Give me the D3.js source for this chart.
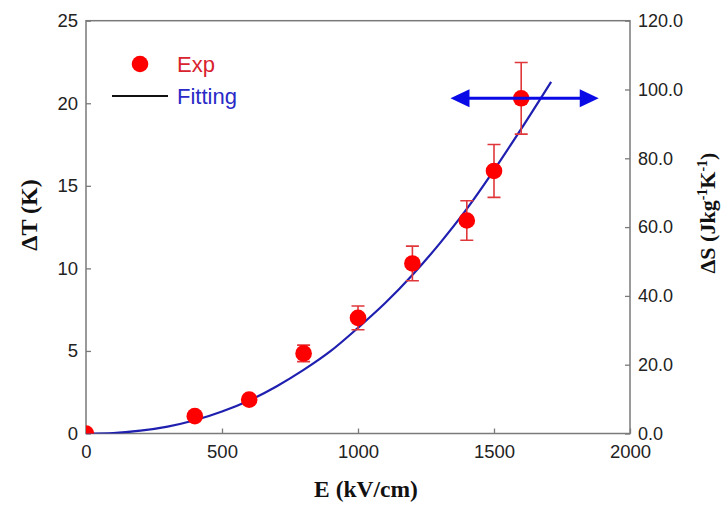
<!DOCTYPE html>
<html>
<head>
<meta charset="utf-8">
<script src="https://cdn.jsdelivr.net/npm/d3@7"></script>
<style>
  html, body { margin: 0; padding: 0; background: #fff; }
  svg { display: block; }
</style>
</head>
<body>
<svg id="chart" width="723" height="507"></svg>
<script>
// Measured electrocaloric temperature change vs applied field
const fieldE   = [0, 400, 600, 800, 1000, 1200, 1400, 1500, 1600];
const deltaT   = [0, 1.05, 2.05, 4.85, 7.0, 10.3, 12.9, 15.9, 20.3];
const deltaErr = [0, 0, 0, 0.5, 0.72, 1.05, 1.2, 1.6, 2.17];

// Fitted curve, sampled along the field axis
const fitE = [0, 100, 200, 300, 400, 500, 600, 700, 800, 900, 1000, 1100, 1200, 1300, 1400, 1500, 1600, 1710];
const fitT = [0, 0.03, 0.17, 0.42, 0.8, 1.33, 2.0, 2.85, 3.85, 5.0, 6.4, 7.9, 9.6, 11.5, 13.6, 15.95, 18.45, 21.3];

// Tick labels
const xTicks  = [0, 500, 1000, 1500, 2000];
const yTicks  = [0, 5, 10, 15, 20, 25];
const y2Ticks = [0, 20, 40, 60, 80, 100, 120];

// Double-headed arrow annotation (field range, at ΔT level)
const arrowE = [1340, 1885];
const arrowT = 20.3;

const svg = d3.select("#chart");
const pL = 86, pR = 630, pT = 20.7, pB = 433.5;

const x  = d3.scaleLinear().domain([0, 2000]).range([pL, pR]);
const y  = d3.scaleLinear().domain([0, 25]).range([pB, pT]);
const y2 = d3.scaleLinear().domain([0, 120]).range([pB, pT]);

const tickFont = "'Liberation Sans', Arial, sans-serif";
const frameColor = "#7a7a7a";

svg.append("defs").append("clipPath").attr("id", "plotClip")
  .append("rect").attr("x", pL).attr("y", pT)
  .attr("width", pR - pL).attr("height", pB - pT);

// Axes (ticks pointing inward)
const axB = svg.append("g").attr("transform", `translate(0,${pB})`)
  .call(d3.axisBottom(x).tickValues(xTicks).tickSizeInner(-5).tickSizeOuter(0).tickPadding(11).tickFormat(d3.format("d")));
const axL = svg.append("g").attr("transform", `translate(${pL},0)`)
  .call(d3.axisLeft(y).tickValues(yTicks).tickSizeInner(-5).tickSizeOuter(0).tickPadding(8).tickFormat(d3.format("d")));
const axR = svg.append("g").attr("transform", `translate(${pR},0)`)
  .call(d3.axisRight(y2).tickValues(y2Ticks).tickSizeInner(-5).tickSizeOuter(0).tickPadding(8).tickFormat(d3.format(".1f")));

[axB, axL, axR].forEach(g => {
  g.select(".domain").remove();
  g.selectAll("line").attr("stroke", frameColor).attr("stroke-width", 1.3);
  g.selectAll("text").attr("fill", "#222").style("font-family", tickFont).style("font-size", "18.5px");
});
axR.selectAll("text").style("font-size", "18px");

// Frame: top, left, bottom, right
svg.append("rect").attr("x", pL).attr("y", pT)
  .attr("width", pR - pL).attr("height", pB - pT)
  .attr("fill", "none").attr("stroke", frameColor).attr("stroke-width", 1.5);

const plot = svg.append("g").attr("clip-path", "url(#plotClip)");

// Fitted curve
const fitPts = fitE.map((e, i) => [e, fitT[i]]);
plot.append("path").datum(fitPts)
  .attr("fill", "none").attr("stroke", "#2020b0").attr("stroke-width", 2.2)
  .attr("d", d3.line().x(d => x(d[0])).y(d => y(d[1])).curve(d3.curveMonotoneX));

// Error bars
const pts = fieldE.map((e, i) => ({ e, t: deltaT[i], err: deltaErr[i] }));
const errColor = "#e0373a";
const eb = plot.append("g").selectAll("g").data(pts.filter(d => d.err > 0)).join("g")
  .attr("stroke", errColor).attr("stroke-width", 1.6);
eb.append("line").attr("x1", d => x(d.e)).attr("x2", d => x(d.e))
  .attr("y1", d => y(d.t - d.err)).attr("y2", d => y(d.t + d.err));
eb.append("line").attr("x1", d => x(d.e) - 6.5).attr("x2", d => x(d.e) + 6.5)
  .attr("y1", d => y(d.t + d.err)).attr("y2", d => y(d.t + d.err));
eb.append("line").attr("x1", d => x(d.e) - 6.5).attr("x2", d => x(d.e) + 6.5)
  .attr("y1", d => y(d.t - d.err)).attr("y2", d => y(d.t - d.err));

// Data points
plot.append("g").selectAll("circle").data(pts).join("circle")
  .attr("cx", d => x(d.e)).attr("cy", d => y(d.t)).attr("r", 8.3)
  .attr("fill", "#ff0000");

// Double-headed arrow
const arrowColor = "#0a0ae6";
const ay = y(arrowT), ax1 = x(arrowE[0]), ax2 = x(arrowE[1]);
svg.append("line").attr("x1", ax1 + 10).attr("x2", ax2 - 10).attr("y1", ay).attr("y2", ay)
  .attr("stroke", arrowColor).attr("stroke-width", 3);
svg.append("path").attr("fill", arrowColor)
  .attr("d", `M${ax1},${ay} L${ax1 + 19},${ay - 9} L${ax1 + 19},${ay + 9} Z`);
svg.append("path").attr("fill", arrowColor)
  .attr("d", `M${ax2},${ay} L${ax2 - 19},${ay - 9} L${ax2 - 19},${ay + 9} Z`);

// Legend
const lg = svg.append("g");
lg.append("circle").attr("cx", 140).attr("cy", 64).attr("r", 8.3).attr("fill", "#ff0000");
lg.append("text").attr("x", 177).attr("y", 72).text("Exp")
  .attr("fill", "#d9232e").style("font-family", tickFont).style("font-size", "22px");
lg.append("line").attr("x1", 112).attr("x2", 168).attr("y1", 96).attr("y2", 96)
  .attr("stroke", "#111").attr("stroke-width", 2);
lg.append("text").attr("x", 177).attr("y", 104).text("Fitting")
  .attr("fill", "#2a2ac8").style("font-family", tickFont).style("font-size", "22px");

// Axis titles
const titleFont = "'Liberation Serif', 'Times New Roman', serif";
svg.append("text").attr("x", 366).attr("y", 497).attr("text-anchor", "middle")
  .style("font-family", titleFont).style("font-size", "23.5px").style("font-weight", "bold")
  .attr("fill", "#111").text("E (kV/cm)");
svg.append("text").attr("transform", "translate(37,215) rotate(-90)").attr("text-anchor", "middle")
  .style("font-family", titleFont).style("font-size", "24px").style("font-weight", "bold")
  .attr("fill", "#111").text("ΔT (K)");
const rt = svg.append("text").attr("transform", "translate(715,213) rotate(-90)").attr("text-anchor", "middle")
  .style("font-family", titleFont).style("font-size", "22px").style("font-weight", "bold")
  .attr("fill", "#111");
rt.append("tspan").text("ΔS (Jkg");
rt.append("tspan").attr("dy", -8).style("font-size", "14px").text("-1");
rt.append("tspan").attr("dy", 8).text("K");
rt.append("tspan").attr("dy", -8).style("font-size", "14px").text("-1");
rt.append("tspan").attr("dy", 8).text(")");
</script>
</body>
</html>
